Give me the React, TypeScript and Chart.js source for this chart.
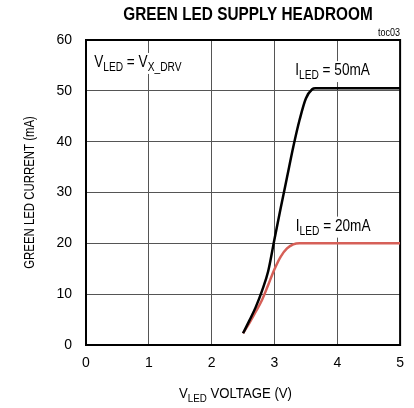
import React, { useEffect, useRef } from "react";
import { Chart, registerables } from "chart.js";
Chart.register(...registerables);

const FONT = '"Liberation Sans", Arial, sans-serif';

const chartTitle = "GREEN LED SUPPLY HEADROOM";
const figTag = "toc03";
const yAxisTitle = "GREEN LED CURRENT (mA)";
const xTickValues = [0, 1, 2, 3, 4, 5];
const yTickValues = [0, 10, 20, 30, 40, 50, 60];

// I_LED = 50mA curve
const voltage50 = [2.5, 2.6, 2.7, 2.8, 2.9, 3.0, 3.1, 3.2, 3.3, 3.4, 3.5, 3.6, 3.65, 5.0];
const current50 = [2.3, 4.8, 7.4, 10.6, 14.5, 20.8, 27.0, 33.0, 39.0, 44.3, 48.5, 50.3, 50.5, 50.5];
// I_LED = 20mA curve
const voltage20 = [2.5, 2.6, 2.7, 2.8, 2.9, 3.0, 3.1, 3.2, 3.3, 3.4, 5.0];
const current20 = [2.3, 4.3, 6.5, 8.8, 11.8, 14.9, 17.4, 19.0, 19.8, 20.0, 20.0];

type Seg = { t: string; sub?: boolean };
type Style = { main: number; sub: number; sx: number; drop: number };

const NOTE: Style = { main: 16, sub: 12, sx: 0.85, drop: 4 };
const XT: Style = { main: 15.5, sub: 11.5, sx: 0.85, drop: 4 };

function richWidth(ctx: CanvasRenderingContext2D, segs: Seg[], st: Style) {
  let w = 0;
  for (const s of segs) {
    ctx.font = `${s.sub ? st.sub : st.main}px ${FONT}`;
    w += ctx.measureText(s.t).width;
  }
  return w * st.sx;
}

function drawRich(ctx: CanvasRenderingContext2D, segs: Seg[], x: number, y: number, st: Style) {
  ctx.save();
  ctx.translate(x, y);
  ctx.scale(st.sx, 1);
  ctx.textBaseline = "alphabetic";
  ctx.textAlign = "left";
  let cx = 0;
  for (const s of segs) {
    ctx.font = `${s.sub ? st.sub : st.main}px ${FONT}`;
    ctx.fillText(s.t, cx, s.sub ? st.drop : 0);
    cx += ctx.measureText(s.t).width;
  }
  ctx.restore();
}

const notes: { segs: Seg[]; x: number; y: number }[] = [
  { segs: [{ t: "V" }, { t: "LED", sub: true }, { t: " = V" }, { t: "X_DRV", sub: true }], x: 0.13, y: 54.7 },
  { segs: [{ t: "I" }, { t: "LED", sub: true }, { t: " = 50mA" }], x: 3.33, y: 53.1 },
  { segs: [{ t: "I" }, { t: "LED", sub: true }, { t: " = 20mA" }], x: 3.34, y: 22.5 },
];

const decorPlugin = {
  id: "decor",
  beforeDatasetsDraw(chart: any) {
    const { ctx, chartArea: a, scales } = chart;
    ctx.save();
    ctx.strokeStyle = "#000";
    ctx.lineWidth = 2;
    ctx.strokeRect(a.left, a.top, a.right - a.left, a.bottom - a.top);
    for (const n of notes) {
      const px = scales.x.getPixelForValue(n.x);
      const py = scales.y.getPixelForValue(n.y);
      const w = richWidth(ctx, n.segs, NOTE);
      ctx.fillStyle = "#fff";
      ctx.fillRect(px - 2, py - 14, w + 4, 21);
      ctx.fillStyle = "#000";
      drawRich(ctx, n.segs, px, py, NOTE);
    }
    ctx.restore();
  },
  afterDraw(chart: any) {
    const { ctx, chartArea: a } = chart;
    ctx.save();
    ctx.fillStyle = "#000";
    ctx.textBaseline = "alphabetic";
    // main title
    ctx.save();
    ctx.font = `bold 18px ${FONT}`;
    const tw = ctx.measureText(chartTitle).width * 0.853;
    ctx.translate(248 - tw / 2, 20);
    ctx.scale(0.853, 1);
    ctx.textAlign = "left";
    ctx.fillText(chartTitle, 0, 0);
    ctx.restore();
    // figure tag
    ctx.save();
    ctx.font = `10px ${FONT}`;
    ctx.textAlign = "right";
    ctx.translate(a.right, 36);
    ctx.scale(0.9, 1);
    ctx.fillText(figTag, 0, 0);
    ctx.restore();
    // y axis title (rotated)
    ctx.save();
    ctx.font = `15px ${FONT}`;
    ctx.translate(34, (a.top + a.bottom) / 2);
    ctx.rotate(-Math.PI / 2);
    ctx.scale(0.76, 1);
    ctx.textAlign = "center";
    ctx.fillText(yAxisTitle, 0, 0);
    ctx.restore();
    // x axis title
    const xt: Seg[] = [{ t: "V" }, { t: "LED", sub: true }, { t: " VOLTAGE (V)" }];
    const w = richWidth(ctx, xt, XT);
    drawRich(ctx, xt, 235.5 - w / 2, 398, XT);
    ctx.restore();
  },
};

export default function App() {
  const ref = useRef<HTMLCanvasElement>(null);
  useEffect(() => {
    if (!ref.current) return;
    const tickFont = { family: FONT, size: 14 };
    const chart = new Chart(ref.current, {
      type: "line",
      data: {
        datasets: [
          {
            label: "ILED = 50mA",
            data: voltage50.map((v, i) => ({ x: v, y: current50[i] })),
            borderColor: "#000",
            borderWidth: 2.5,
            pointRadius: 0,
            cubicInterpolationMode: "monotone",
            fill: false,
          },
          {
            label: "ILED = 20mA",
            data: voltage20.map((v, i) => ({ x: v, y: current20[i] })),
            borderColor: "rgb(214, 96, 88)",
            borderWidth: 2.5,
            pointRadius: 0,
            cubicInterpolationMode: "monotone",
            fill: false,
          },
        ],
      },
      options: {
        animation: false,
        responsive: false,
        devicePixelRatio: 1,
        layout: { padding: { top: 40, right: 11, left: 0, bottom: 0 } },
        plugins: { legend: { display: false }, tooltip: { enabled: false }, title: { display: false } },
        scales: {
          x: {
            type: "linear",
            min: 0,
            max: 5,
            afterBuildTicks: (s: any) => {
              s.ticks = xTickValues.map((v) => ({ value: v }));
            },
            afterFit: (s: any) => {
              s.height = 63;
            },
            ticks: { padding: 10, font: tickFont, color: "#000" },
            grid: { color: "#555", lineWidth: 1, drawTicks: false },
            border: { display: false },
          },
          y: {
            type: "linear",
            min: 0,
            max: 60,
            afterBuildTicks: (s: any) => {
              s.ticks = yTickValues.map((v) => ({ value: v }));
            },
            afterFit: (s: any) => {
              s.width = 86;
            },
            ticks: { padding: 14, font: tickFont, color: "#000" },
            grid: { color: "#555", lineWidth: 1, drawTicks: false },
            border: { display: false },
          },
        },
      } as any,
      plugins: [decorPlugin],
    });
    return () => chart.destroy();
  }, []);
  return (
    <div style={{ position: "fixed", left: 0, top: 0, width: 414, height: 408, background: "#fff" }}>
      <canvas ref={ref} width={414} height={408} style={{ display: "block" }} />
    </div>
  );
}
